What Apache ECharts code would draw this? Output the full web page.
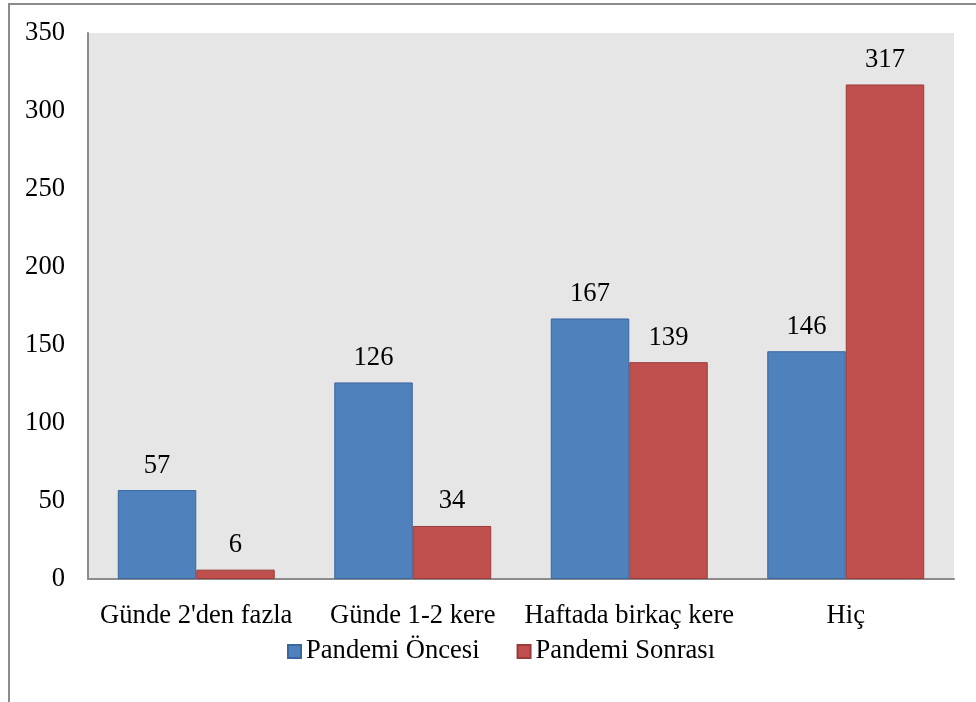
<!DOCTYPE html>
<html>
<head>
<meta charset="utf-8">
<script src="https://cdn.jsdelivr.net/npm/echarts@6/dist/echarts.min.js"></script>
<style>
  html, body { margin: 0; padding: 0; background: #fff; }
  #frame { position: absolute; left: 8px; top: 3px; width: 1000px; height: 800px; border: 2px solid #8c8c8c; box-sizing: border-box; }
  #chart { position: absolute; left: 0; top: 0; width: 976px; height: 702px; }
</style>
</head>
<body>
<div id="frame"></div>
<div id="chart"></div>
<script>
const categories = ["Günde 2'den fazla", "Günde 1-2 kere", "Haftada birkaç kere", "Hiç"];
const seriesNames = ["Pandemi Öncesi", "Pandemi Sonrası"];
const before = [57, 126, 167, 146];
const after = [6, 34, 139, 317];

const font = "'Liberation Serif', 'Times New Roman', serif";
const fs = 26.6;

const chart = echarts.init(document.getElementById('chart'), null, { renderer: 'canvas' });
chart.setOption({
  backgroundColor: 'transparent',
  animation: false,
  grid: { left: 88, right: 22, top: 33, bottom: 123, show: true, backgroundColor: '#e6e6e6', borderWidth: 0 },
  legend: {
    top: 638,
    left: 287,
    padding: 0,
    itemWidth: 13,
    itemHeight: 13,
    itemGap: 37,
    icon: 'rect',
    textStyle: { fontFamily: font, fontSize: fs, color: '#000' },
    data: seriesNames
  },
  xAxis: {
    type: 'category',
    data: categories,
    axisLine: { lineStyle: { color: '#8c8c8c', width: 2 } },
    axisTick: { show: false },
    axisLabel: { interval: 0, fontFamily: font, fontSize: fs, color: '#000', margin: 24 }
  },
  yAxis: {
    type: 'value',
    min: 0,
    max: 350,
    interval: 50,
    axisLine: { show: true, lineStyle: { color: '#8c8c8c', width: 2 } },
    axisTick: { show: false },
    splitLine: { show: false },
    axisLabel: { fontFamily: font, fontSize: fs, color: '#000', margin: 23 }
  },
  series: [
    {
      name: seriesNames[0],
      type: 'bar',
      data: before,
      barGap: '0%',
      barCategoryGap: '27.5%',
      itemStyle: { color: '#4f81bd', borderColor: '#3a66a0', borderWidth: 1 },
      label: { show: true, position: 'top', distance: 11, fontFamily: font, fontSize: fs, color: '#000' }
    },
    {
      name: seriesNames[1],
      type: 'bar',
      data: after,
      itemStyle: { color: '#c0504d', borderColor: '#983b39', borderWidth: 1 },
      label: { show: true, position: 'top', distance: 11, fontFamily: font, fontSize: fs, color: '#000' }
    }
  ]
});
</script>
</body>
</html>
